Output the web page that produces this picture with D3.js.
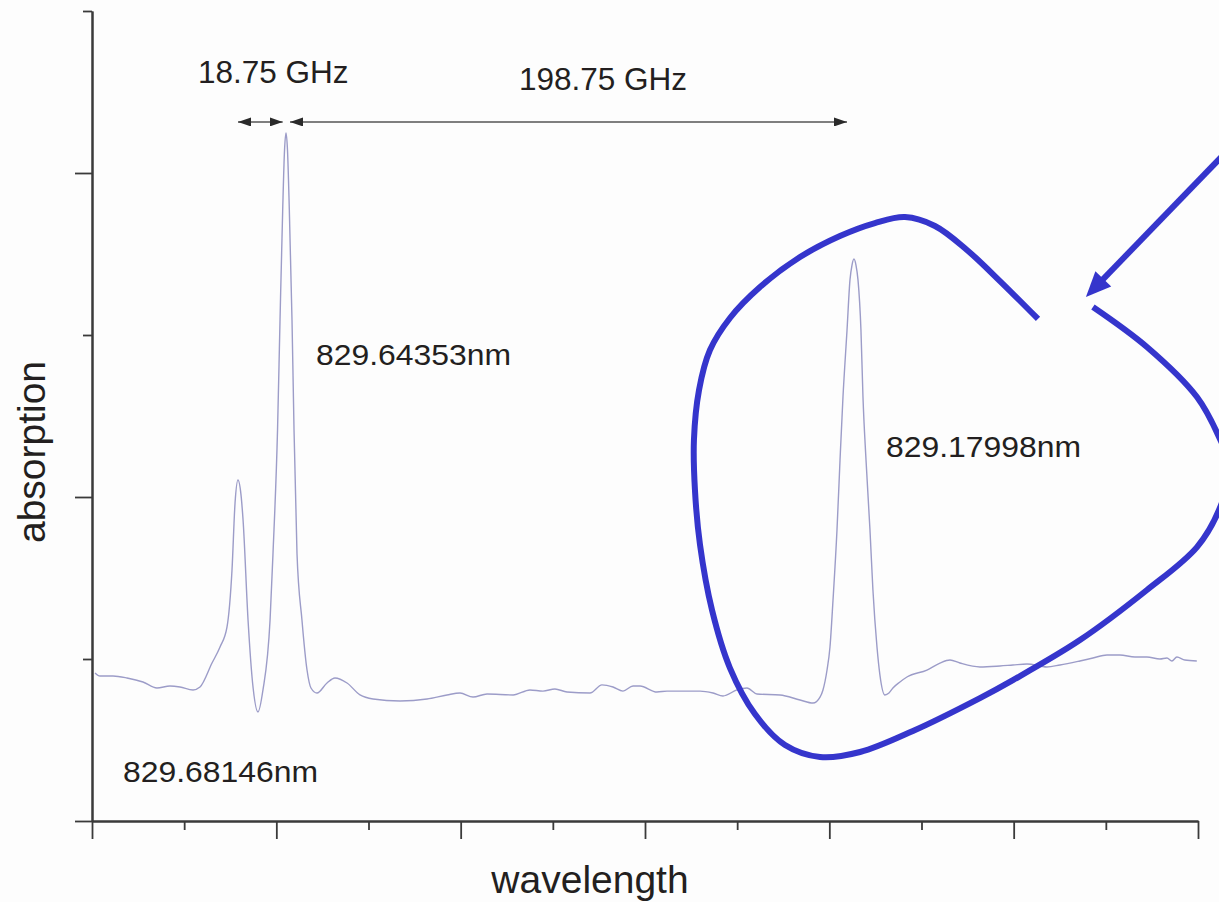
<!DOCTYPE html>
<html>
<head>
<meta charset="utf-8">
<script src="https://cdn.jsdelivr.net/npm/d3@7"></script>
<style>
  html, body { margin: 0; padding: 0; background: #fdfdfd; }
  svg { display: block; }
  text { font-family: "Liberation Sans", Arial, Helvetica, sans-serif; fill: #231f20; }
</style>
</head>
<body>
<svg id="chart" width="1219" height="902"></svg>
<script>
// ---- data (axis units: x = tick intervals along wavelength, y = absorption) ----
const specX = [0.033,0.087,0.228,0.380,0.553,0.705,0.846,0.955,1.096,1.172,1.302,1.389,1.465,1.519,1.552,1.584,1.617,1.639,1.693,1.747,1.801,1.855,1.932,1.964,2.013,2.040,2.069,2.089,2.105,2.121,2.141,2.170,2.192,2.224,2.278,2.333,2.376,2.441,2.550,2.636,2.767,2.908,3.049,3.342,3.635,3.852,3.993,4.134,4.286,4.569,4.752,4.893,5.023,5.154,5.403,5.533,5.653,5.761,5.870,5.946,6.130,6.239,6.597,6.738,6.846,6.998,7.106,7.215,7.465,7.682,7.823,7.899,7.931,7.975,8.007,8.040,8.083,8.116,8.148,8.192,8.224,8.246,8.267,8.289,8.311,8.343,8.365,8.398,8.441,8.473,8.517,8.549,8.603,8.647,8.690,8.766,8.842,9.059,9.200,9.309,9.417,9.634,9.851,9.992,10.144,10.361,10.502,10.719,10.860,11.012,11.153,11.316,11.446,11.587,11.663,11.717,11.771,11.857,11.987];
const specY = [0.914,0.895,0.895,0.883,0.858,0.821,0.833,0.827,0.809,0.827,0.975,1.074,1.198,1.549,1.963,2.105,2.012,1.858,1.241,0.827,0.673,0.809,1.241,1.654,2.414,3.093,3.772,4.142,4.247,4.142,3.772,3.093,2.414,1.654,1.241,0.932,0.821,0.790,0.852,0.883,0.852,0.778,0.753,0.741,0.753,0.778,0.790,0.765,0.784,0.778,0.809,0.802,0.815,0.796,0.790,0.840,0.827,0.802,0.833,0.833,0.796,0.802,0.802,0.790,0.772,0.809,0.821,0.784,0.778,0.747,0.728,0.765,0.809,0.932,1.074,1.364,1.796,2.228,2.617,3.031,3.340,3.432,3.469,3.432,3.340,3.031,2.617,2.228,1.796,1.426,1.074,0.901,0.778,0.790,0.821,0.858,0.889,0.932,0.975,0.994,0.975,0.951,0.957,0.963,0.969,0.951,0.963,0.988,1.006,1.025,1.025,1.012,1.012,1.000,1.006,0.988,1.012,0.994,0.988];

const xMajorTicks = [0, 2, 4, 6, 8, 10, 12];
const xMinorTicks = [1, 3, 5, 7, 9, 11];
const yMajorTicks = [0, 2, 4];
const yMinorTicks = [1, 3, 5];

const xTitle = "wavelength";
const yTitle = "absorption";

// peak labels
const peakLabels = ["829.68146nm", "829.64353nm", "829.17998nm"];
const peakLabelX = [0.336, 2.430, 8.615];
const peakLabelY = [0.241, 2.815, 2.247];

// frequency spacing annotations
const gapLabels = ["18.75 GHz", "198.75 GHz"];
const gapLabelX = [1.150, 4.633];
const gapLabelY = [4.556, 4.512];
const gapFromX = [1.584, 2.148];
const gapToX = [2.069, 8.192];
const gapArrowY = 4.315;

// hand-drawn highlight loop & pointer arrow
const loopX = [10.264,9.851,9.493,9.146,8.821,8.495,8.115,7.682,7.248,6.922,6.705,6.586,6.531,6.542,6.597,6.727,6.922,7.193,7.519,7.899,8.333,8.907,9.634,9.992,10.719,11.446,11.989,12.228,12.347,12.228,11.989,11.446,10.860];
const loopY = [3.099,3.333,3.525,3.673,3.728,3.691,3.611,3.481,3.296,3.105,2.907,2.660,2.352,2.043,1.704,1.302,0.944,0.660,0.469,0.395,0.426,0.556,0.759,0.870,1.117,1.426,1.691,1.920,2.179,2.370,2.617,2.926,3.173];
const pointerFrom = [12.347, 4.154];
const pointerTo = [10.784, 3.235];

// ---- drawing ----
const svg = d3.select("#chart");
const x = d3.scaleLinear().domain([0, 12]).range([92, 1198]);
const y = d3.scaleLinear().domain([0, 5]).range([821, 11]);

const axisColor = "#3a3a3a";
const lineGen = d3.line().x(d => x(d[0])).y(d => y(d[1])).curve(d3.curveMonotoneX);
const spec = d3.zip(specX, specY);

svg.append("path")
  .datum(spec)
  .attr("d", lineGen)
  .attr("fill", "none")
  .attr("stroke", "#9c9cc8")
  .attr("stroke-width", 1.4);

// axes
function styleAxis(g) {
  g.selectAll("path.domain").attr("stroke", axisColor).attr("stroke-width", 2);
  g.selectAll(".tick line").attr("stroke", axisColor).attr("stroke-width", 1.8);
  g.selectAll(".tick text").remove();
}
svg.append("g").attr("transform", `translate(0,${y(0)})`)
  .call(d3.axisBottom(x).tickValues(xMinorTicks).tickSize(9).tickSizeOuter(0).tickFormat(""))
  .call(styleAxis);
svg.append("g").attr("transform", `translate(0,${y(0)})`)
  .call(d3.axisBottom(x).tickValues(xMajorTicks).tickSize(18).tickSizeOuter(0).tickFormat(""))
  .call(styleAxis);
svg.append("g").attr("transform", `translate(${x(0)},0)`)
  .call(d3.axisLeft(y).tickValues(yMinorTicks).tickSize(9).tickSizeOuter(0).tickFormat(""))
  .call(styleAxis);
svg.append("g").attr("transform", `translate(${x(0)},0)`)
  .call(d3.axisLeft(y).tickValues(yMajorTicks).tickSize(17).tickSizeOuter(0).tickFormat(""))
  .call(styleAxis);

// axis titles
svg.append("text")
  .attr("x", (x(0) + x(12)) / 2 - 55).attr("y", 893)
  .attr("text-anchor", "middle")
  .attr("font-size", 39)
  .text(xTitle);
svg.append("text")
  .attr("transform", `translate(45,${452}) rotate(-90)`)
  .attr("text-anchor", "middle")
  .attr("font-size", 39)
  .text(yTitle);

// peak labels (slightly wide lettering as in the original)
peakLabels.forEach((t, i) => {
  svg.append("text")
    .attr("x", x(peakLabelX[i])).attr("y", y(peakLabelY[i]))
    .attr("font-size", 29.5)
    .attr("textLength", 195)
    .attr("lengthAdjust", "spacingAndGlyphs")
    .text(t);
});

// GHz labels
gapLabels.forEach((t, i) => {
  svg.append("text")
    .attr("x", x(gapLabelX[i])).attr("y", y(gapLabelY[i]))
    .attr("font-size", 31.5)
    .text(t);
});

// arrow markers
const defs = svg.append("defs");
defs.append("marker")
  .attr("id", "ah")
  .attr("markerUnits", "userSpaceOnUse")
  .attr("viewBox", "0 0 13 9")
  .attr("refX", 13).attr("refY", 4.5)
  .attr("markerWidth", 13).attr("markerHeight", 9)
  .attr("orient", "auto-start-reverse")
  .append("path").attr("d", "M0,0 L13,4.5 L0,9 Z").attr("fill", "#2a2a2a");

gapFromX.forEach((fx, i) => {
  svg.append("line")
    .attr("x1", x(fx)).attr("x2", x(gapToX[i]))
    .attr("y1", y(gapArrowY)).attr("y2", y(gapArrowY))
    .attr("stroke", "#555")
    .attr("stroke-width", 1.6)
    .attr("marker-start", "url(#ah)")
    .attr("marker-end", "url(#ah)");
});

// hand-drawn loop
const loopColor = "#3535cc";
svg.append("path")
  .datum(d3.zip(loopX, loopY))
  .attr("d", d3.line().x(d => x(d[0])).y(d => y(d[1])).curve(d3.curveCatmullRom.alpha(0.5)))
  .attr("fill", "none")
  .attr("stroke", loopColor)
  .attr("stroke-width", 6);

// pointer arrow
const px0 = x(pointerFrom[0]), py0 = y(pointerFrom[1]);
const px1 = x(pointerTo[0]), py1 = y(pointerTo[1]);
const ang = Math.atan2(py1 - py0, px1 - px0);
const headLen = 25, headHalf = 11;
const bx = px1 - headLen * Math.cos(ang), by = py1 - headLen * Math.sin(ang);
svg.append("line")
  .attr("x1", px0).attr("y1", py0).attr("x2", bx + 3 * Math.cos(ang)).attr("y2", by + 3 * Math.sin(ang))
  .attr("stroke", loopColor).attr("stroke-width", 6);
svg.append("path")
  .attr("d", `M${px1},${py1} L${bx - headHalf * Math.sin(ang)},${by + headHalf * Math.cos(ang)} L${bx + headHalf * Math.sin(ang)},${by - headHalf * Math.cos(ang)} Z`)
  .attr("fill", loopColor);
</script>
</body>
</html>
